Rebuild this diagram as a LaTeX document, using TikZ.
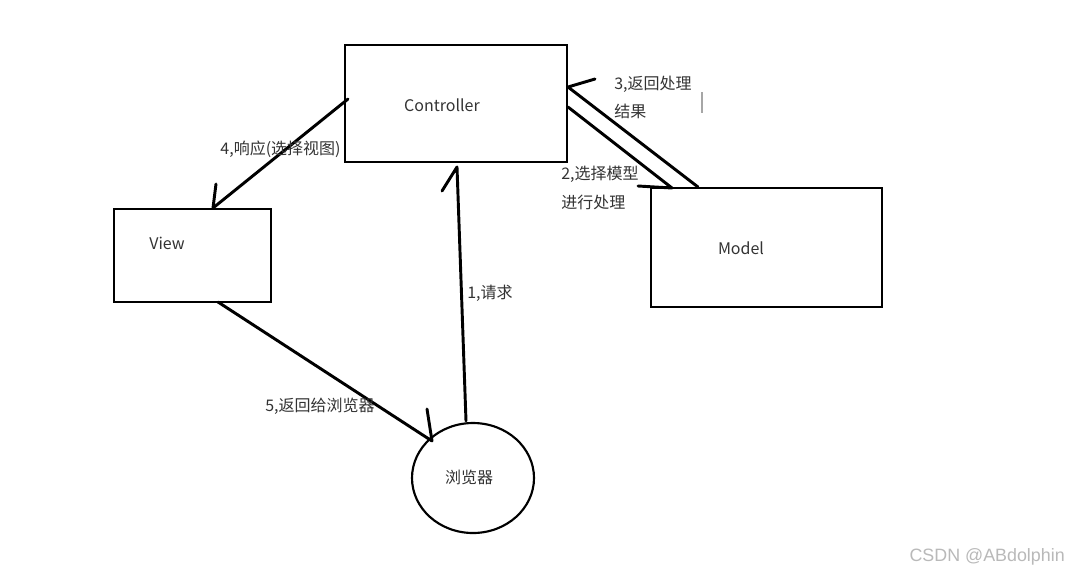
\documentclass[tikz,border=0pt]{standalone}
\usepackage{fontspec}
\setmainfont{Noto Sans CJK SC}
\newfontfamily\wmfont{Liberation Sans}
\usetikzlibrary{shapes.geometric}
\definecolor{txt}{HTML}{333333}
\tikzset{
  box/.style={draw=black, line width=1.8pt, rectangle, inner sep=0pt},
  oval/.style={draw=black, line width=1.6pt, ellipse, inner sep=0pt},
  conn/.style={draw=black, line width=2.2pt, line cap=round, line join=round},
  lbl/.style={text=txt, font=\fontsize{12pt}{14pt}\selectfont, inner sep=0pt},
}
\begin{document}
\begin{tikzpicture}[x=0.75pt, y=-0.75pt]
\useasboundingbox[fill=white] (0,0) rectangle (1078,576);
% boxes
\node[box, minimum width=166.5pt, minimum height=87.75pt] (ctrl) at (456,103.5) {};
\node[box, minimum width=117.75pt, minimum height=69.75pt] (view) at (192.5,255.5) {};
\node[box, minimum width=173.25pt, minimum height=89.25pt] (model) at (766.5,247.5) {};
\node[oval, minimum width=91.5pt, minimum height=82.5pt] (brow) at (473,478) {};
% box texts
\node[lbl] (ctrltxt) at (442,105) {Controller};
\node[lbl] (viewtxt) at (167,243) {View};
\node[lbl] (modeltxt) at (741,248) {Model};
\node[lbl] (browtxt) at (469,477) {浏览器};
% connector points
\coordinate (b1) at (466,421);
\coordinate (c1) at (457,167);
\coordinate (h1) at (442,191);
\coordinate (c2s) at (568,107);
\coordinate (m2) at (672,188);
\coordinate (h2) at (638,186);
\coordinate (m3) at (698,187);
\coordinate (c3) at (568,87);
\coordinate (h3) at (595,79);
\coordinate (c4) at (348,99);
\coordinate (v4) at (213,208);
\coordinate (h4) at (216,184);
\coordinate (v5) at (218,302);
\coordinate (b5) at (432,441);
\coordinate (h5) at (427,409);
% connectors
\draw[conn] (b1) -- (c1) -- (h1);
\draw[conn] (c2s) -- (m2) -- (h2);
\draw[conn] (m3) -- (c3) -- (h3);
\draw[conn] (c4) -- (v4) -- (h4);
\draw[conn] (v5) -- (b5) -- (h5);
% cursor mark
\coordinate (k1) at (702,92);
\coordinate (k2) at (702,113);
\draw[gray!70, line width=0.9pt] (k1) -- (k2);
% labels
\node[lbl] (l1) at (490,293) {1,请求};
\node[lbl, anchor=west] (l3a) at (614,84) {3,返回处理};
\node[lbl, anchor=west] (l3b) at (614,111) {结果};
\node[lbl, anchor=west] (l2a) at (561,174) {2,选择模型};
\node[lbl, anchor=west] (l2b) at (561,202) {进行处理};
\node[lbl] (l4) at (280.5,149) {4,响应(选择视图)};
\node[lbl] (l5) at (320,406) {5,返回给浏览器};
% watermark
\node[text=gray!55, font=\wmfont\fontsize{13.4pt}{15pt}\selectfont, inner sep=0pt, anchor=east] (wm) at (1065,557) {CSDN @ABdolphin};
\end{tikzpicture}
\end{document}
